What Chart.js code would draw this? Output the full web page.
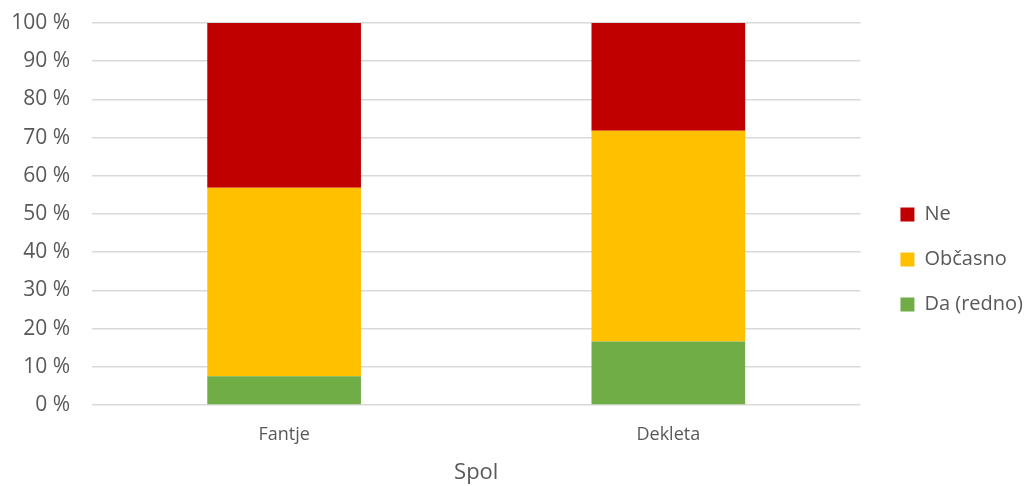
<!DOCTYPE html>
<html>
<head>
<meta charset="utf-8">
<script src="https://cdn.jsdelivr.net/npm/chart.js@4"></script>
<style>
    html, body { margin: 0; padding: 0; background: #fff; }
    #wrap { width: 1027px; height: 486px; position: relative; }
</style>
</head>
<body>
<div id="wrap"><canvas id="spolChart"></canvas></div>
<script>
// ========================================
// DATA
// ========================================
const categories = ['Fantje', 'Dekleta'];
const daRedno = [7.5, 16.6];
const obcasno = [49.4, 55.2];
const ne = [43.1, 28.2];
const yTicks = [0, 10, 20, 30, 40, 50, 60, 70, 80, 90, 100];

const textColor = '#595959';
const fontFamily = "'Open Sans', 'Liberation Sans', sans-serif";

// ========================================
// CHART
// ========================================
document.addEventListener('DOMContentLoaded', function() {
    const ctx = document.getElementById('spolChart');

    new Chart(ctx, {
        type: 'bar',
        data: {
            labels: categories,
            datasets: [
                { label: 'Da (redno)', data: daRedno, backgroundColor: '#70ad47' },
                { label: 'Občasno', data: obcasno, backgroundColor: '#ffc000' },
                { label: 'Ne', data: ne, backgroundColor: '#c00000' }
            ]
        },
        options: {
            responsive: true,
            maintainAspectRatio: false,
            animation: false,
            layout: {
                padding: { top: 23, right: -6, left: 13, bottom: 0 }
            },
            datasets: {
                bar: { categoryPercentage: 1, barPercentage: 0.4 }
            },
            plugins: {
                tooltip: { enabled: false },
                legend: {
                    position: 'right',
                    reverse: true,
                    // empty title only pushes the items down a bit
                    title: {
                        display: true,
                        text: ' ',
                        padding: 2,
                        font: { size: 5 }
                    },
                    labels: {
                        boxWidth: 14,
                        boxHeight: 14,
                        padding: 25,
                        color: textColor,
                        font: { family: fontFamily, size: 20 }
                    }
                }
            },
            scales: {
                x: {
                    stacked: true,
                    grid: { display: false, drawTicks: false },
                    border: { display: false },
                    afterFit: function(axis) {
                        axis.height = 81;
                    },
                    ticks: {
                        color: textColor,
                        padding: 19,
                        font: { family: fontFamily, size: 18 }
                    },
                    title: {
                        display: true,
                        text: 'Spol',
                        color: textColor,
                        padding: { top: 0, bottom: 0 },
                        font: { family: fontFamily, size: 22 }
                    }
                },
                y: {
                    stacked: true,
                    min: 0,
                    max: 100,
                    afterBuildTicks: function(axis) {
                        axis.ticks = yTicks.map(v => ({ value: v }));
                    },
                    afterFit: function(axis) {
                        axis.width = 79;
                        // top/bottom come from layout padding only
                        axis.paddingTop = 0;
                        axis.paddingBottom = 0;
                    },
                    grid: {
                        color: '#d9d9d9',
                        lineWidth: 1.5,
                        drawTicks: false
                    },
                    border: { display: false },
                    ticks: {
                        color: textColor,
                        padding: 22,
                        font: { family: fontFamily, size: 21 },
                        callback: function(value) {
                            return value + ' %';
                        }
                    }
                },
                // empty axis, only keeps a gap before the legend
                gap: {
                    type: 'linear',
                    position: 'right',
                    display: true,
                    grid: { display: false, drawTicks: false },
                    border: { display: false },
                    ticks: { display: false },
                    afterFit: function(axis) {
                        axis.width = 15;
                        axis.paddingTop = 0;
                        axis.paddingBottom = 0;
                    }
                }
            }
        }
    });
});
</script>
</body>
</html>
